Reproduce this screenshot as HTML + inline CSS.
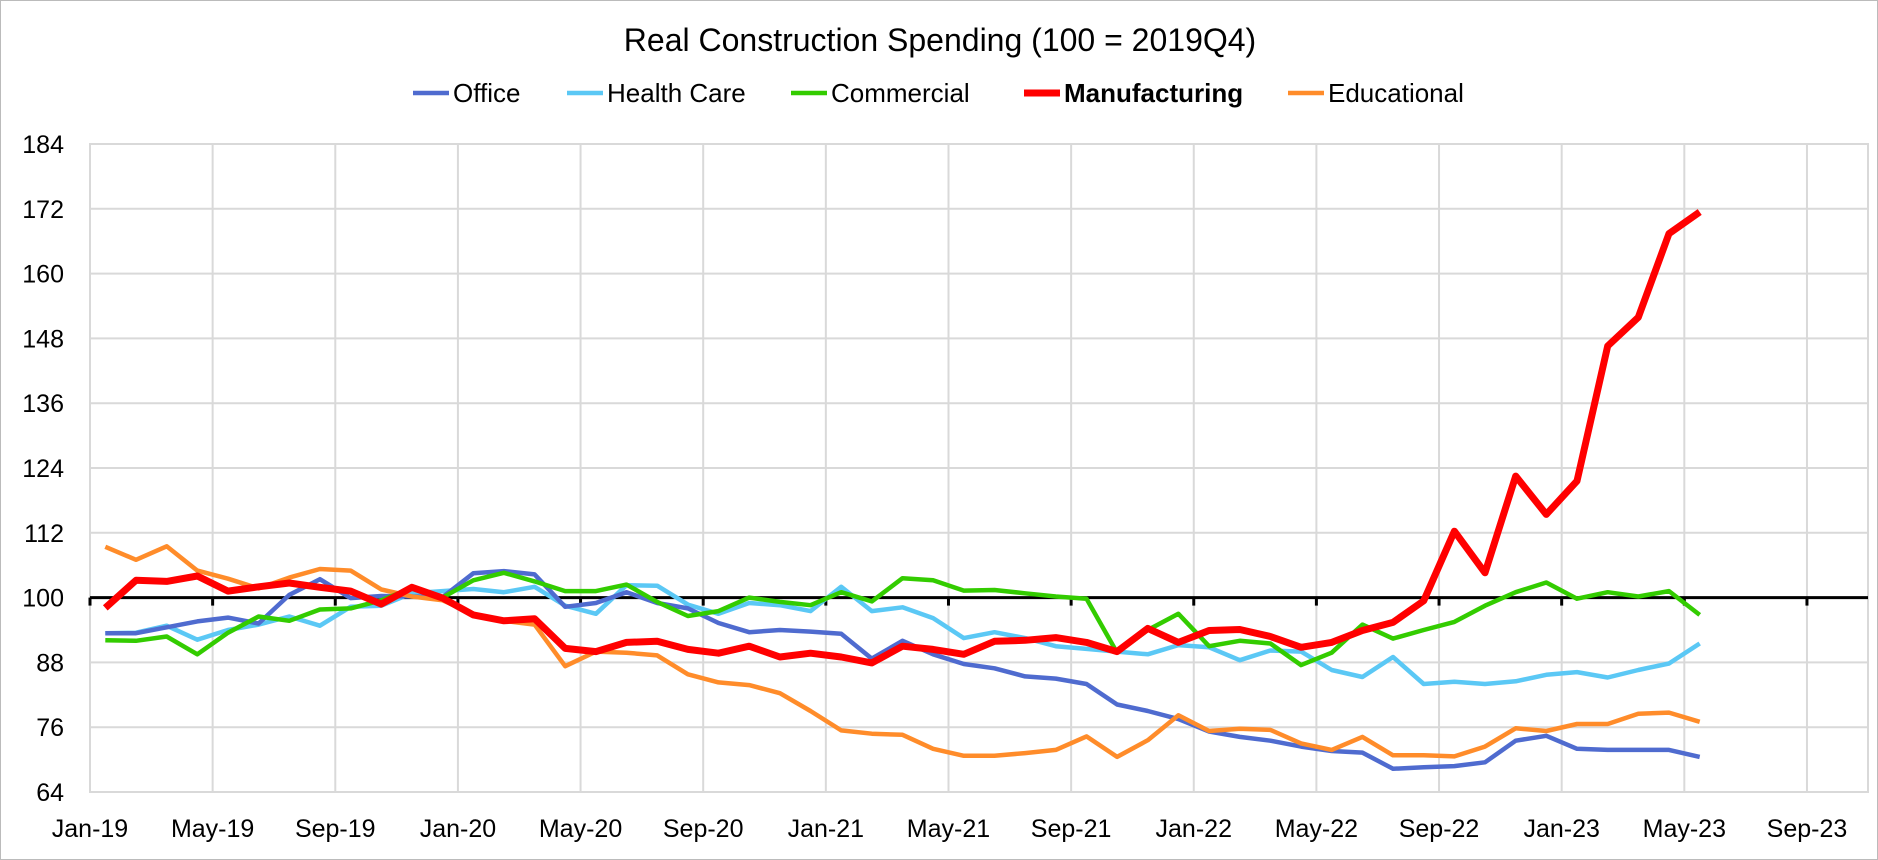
<!DOCTYPE html>
<html><head><meta charset="utf-8"><style>
html,body{margin:0;padding:0;background:#fff;}
svg{display:block;font-family:"Liberation Sans",sans-serif;}
</style></head><body>
<svg id="chart" width="1878" height="860" viewBox="0 0 1878 860">
<rect x="0.5" y="0.5" width="1877" height="859" fill="#fff" stroke="#bbb"/>
<text x="940" y="51" font-size="32" text-anchor="middle" fill="#000">Real Construction Spending (100 = 2019Q4)</text>
<g id="grid"></g>
<g id="axes"></g>
<g id="series"></g>
<g id="legend"></g>
</svg>
<script>
const xTickLabels=["Jan-19","May-19","Sep-19","Jan-20","May-20","Sep-20","Jan-21","May-21","Sep-21","Jan-22","May-22","Sep-22","Jan-23","May-23","Sep-23"];
const yTicks=[64,76,88,100,112,124,136,148,160,172,184];
const seriesNames=["Office","Health Care","Commercial","Manufacturing","Educational"];
const office=[93.4,93.4,94.5,95.6,96.3,95.2,100.5,103.4,99.9,100.3,100.2,100.1,104.5,104.9,104.3,98.3,99,101,99,98,95.3,93.6,94,93.7,93.3,88.7,92,89.5,87.7,86.9,85.4,85,84,80.2,79,77.5,75.2,74.2,73.5,72.4,71.6,71.3,68.3,68.6,68.8,69.5,73.5,74.4,72,71.8,71.8,71.8,70.5];
const healthCare=[93.4,93.5,94.8,92.2,94,95,96.5,94.8,98.3,98.5,100.8,101.2,101.6,101,102,98.5,97,102.3,102.2,98.7,97,99,98.6,97.5,102,97.5,98.2,96.2,92.5,93.6,92.5,91,90.5,90,89.5,91.2,90.8,88.4,90.2,90,86.6,85.3,89,84,84.4,84,84.5,85.7,86.2,85.2,86.6,87.8,91.5];
const commercial=[92.1,92,92.8,89.5,93.5,96.5,95.7,97.8,98,99.5,101.8,100,103.2,104.6,103,101.2,101.2,102.4,99.2,96.6,97.5,100,99.2,98.6,101,99.3,103.6,103.2,101.3,101.4,100.8,100.2,99.8,89.8,94,97,91,92,91.5,87.5,89.8,95,92.4,94,95.5,98.5,101,102.8,99.8,101,100.2,101.2,96.8];
const manufacturing=[98.1,103.2,103,104,101.2,102,102.7,101.9,101.2,98.8,101.9,99.9,96.8,95.7,96.1,90.6,90,91.7,91.9,90.4,89.7,91,89,89.7,89,87.9,91,90.4,89.5,91.9,92.1,92.6,91.7,90,94.3,91.7,93.9,94.1,92.8,90.8,91.7,93.9,95.4,99.4,112.3,104.6,122.5,115.4,121.6,146.6,151.9,167.4,171.4];
const educational=[109.4,107,109.5,105,103.5,101.7,103.7,105.3,105,101.5,100.2,99.5,97,95.7,95,87.3,90,89.8,89.3,85.8,84.3,83.8,82.3,79,75.4,74.8,74.6,72,70.7,70.7,71.2,71.8,74.3,70.5,73.6,78.2,75.3,75.7,75.5,73,71.8,74.2,70.8,70.8,70.6,72.4,75.8,75.3,76.6,76.6,78.5,78.7,77];

const NS="http://www.w3.org/2000/svg";
const L=90,R=1868,T=144,B=792,MONTH=30.66,YMIN=64,YMAX=184;
function xAt(m){return L+m*MONTH;}
function yAt(v){return B-(v-YMIN)/(YMAX-YMIN)*(B-T);}
function mk(tag,attrs,parent){const e=document.createElementNS(NS,tag);for(const k in attrs)e.setAttribute(k,attrs[k]);parent.appendChild(e);return e;}
const grid=document.getElementById('grid'),axes=document.getElementById('axes'),ser=document.getElementById('series'),leg=document.getElementById('legend');
mk('rect',{x:L,y:T,width:R-L,height:B-T,fill:'none',stroke:'#d9d9d9','stroke-width':2},grid);
yTicks.forEach(v=>{
  const ln=mk('line',{x1:L,x2:R,y1:yAt(v),y2:yAt(v),stroke:'#d9d9d9','stroke-width':2},grid);
  
  
  const t=mk('text',{x:L-26,y:yAt(v)+9,'font-size':25,'text-anchor':'end',fill:'#000'},axes);
  t.textContent=v;
  
  
});
xTickLabels.forEach((lab,i)=>{
  const x=xAt(i*4);
  const ln=mk('line',{x1:x,x2:x,y1:T,y2:B,stroke:'#d9d9d9','stroke-width':2},grid);
  
  
  const tk=mk('line',{x1:x,x2:x,y1:yAt(100),y2:yAt(100)+8,stroke:'#000','stroke-width':3},axes);
  
  
  const t=mk('text',{x:x,y:B+45,'font-size':25,'text-anchor':'middle',fill:'#000'},axes);
  t.textContent=lab;
  
  
});
const base=mk('line',{x1:L,x2:R,y1:yAt(100),y2:yAt(100),stroke:'#000','stroke-width':3},axes);


const cols=["#4f6bcf","#5bc8f5","#33cc00","#ff0000","#ff8c2a"];
const widths=[4.5,4.5,4.5,7,4.5];
const datas=[office,healthCare,commercial,manufacturing,educational];
const order=[1,0,4,2,3];
order.forEach(k=>{
  const d=datas[k].map((v,i)=>(i?'L':'M')+xAt(i+0.5).toFixed(1)+','+yAt(v).toFixed(1)).join(' ');
  const p=mk('path',{d:d,fill:'none',stroke:cols[k],'stroke-width':widths[k],'stroke-linejoin':'round'},ser);
  
  
});
const legX=[413,567,791,1024,1288];
seriesNames.forEach((n,k)=>{
  const g=mk('g',{},leg);
  
  
  mk('line',{x1:legX[k],x2:legX[k]+36,y1:93,y2:93,stroke:cols[k],'stroke-width':widths[k]},g);
  const t=mk('text',{x:legX[k]+40,y:102,'font-size':26,fill:'#000','font-weight':k===3?'bold':'normal'},g);
  t.textContent=n;
});
</script>
</body></html>
